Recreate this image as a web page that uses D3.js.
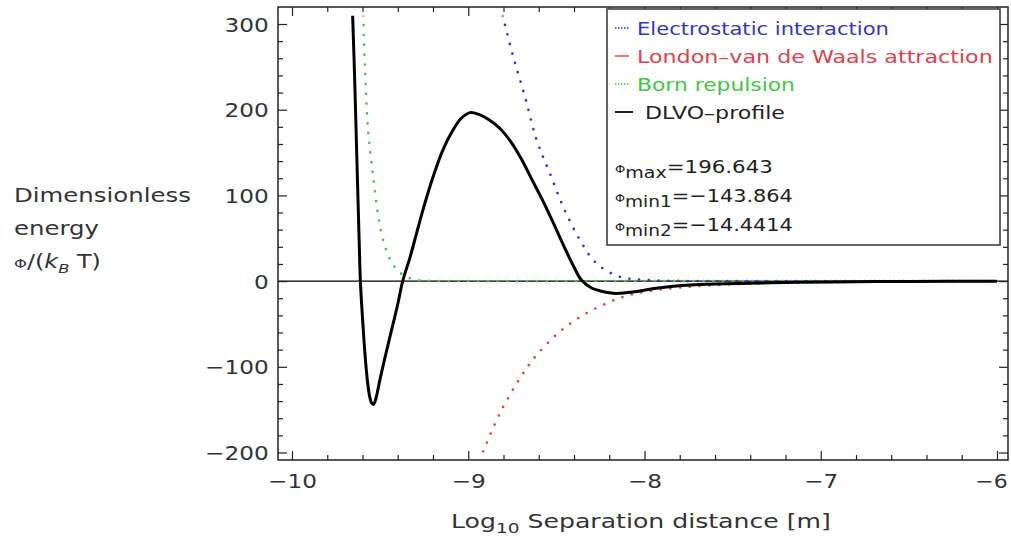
<!DOCTYPE html>
<html>
<head>
  <meta charset="utf-8">
  <script src="https://d3js.org/d3.v7.min.js"></script>
  <style>
    body { margin: 0; background: #fff; }
    text { font-family: "DejaVu Sans", Verdana, sans-serif; fill: #333; }
  </style>
</head>
<body>
<script>
// tick values
var xMajor = [-10, -9, -8, -7, -6];
var xMinor = [-9.8, -9.6, -9.4, -9.2, -8.8, -8.6, -8.4, -8.2, -7.8, -7.6, -7.4, -7.2, -6.8, -6.6, -6.4, -6.2];
var yMajor = [-200, -100, 0, 100, 200, 300];
var yMinor = [-180, -160, -140, -120, -80, -60, -40, -20, 20, 40, 60, 80, 120, 140, 160, 180, 220, 240, 260, 280, 320];

// series (x = log10 separation, y = energy / kT)
var dlvoX = [-9.656, -9.645, -9.633, -9.620, -9.612, -9.604, -9.594, -9.582, -9.570, -9.558, -9.548, -9.538, -9.528, -9.516, -9.501, -9.470, -9.435, -9.400, -9.372, -9.330, -9.293, -9.250, -9.199, -9.150, -9.104, -9.040, -8.990, -8.940, -8.880, -8.820, -8.760, -8.700, -8.640, -8.580, -8.520, -8.460, -8.404, -8.357, -8.300, -8.250, -8.200, -8.160, -8.066, -7.970, -7.875, -7.686, -7.400, -7.120, -6.800, -6.500, -6.000];
var dlvoY = [310, 240, 150, 55, 0, -30, -62, -95, -120, -136, -142.5, -143.9, -140, -130, -115, -87, -57, -27, 0, 28, 56, 88, 122, 150, 170, 190, 196.6, 194.5, 188, 178, 163, 143, 119, 95, 69, 42, 18, 1, -8, -11.5, -13.7, -14.44, -12.8, -9.5, -6.8, -4.0, -2.4, -1.4, -0.7, -0.4, -0.2];

var elecX = [-8.805, -8.745, -8.678, -8.612, -8.537, -8.461, -8.366, -8.272, -8.140, -8.000, -7.800, -7.500, -7.000, -6.500, -6.000];
var elecY = [310, 262, 215, 164.5, 125.7, 86.7, 47.8, 20.6, 5, 1.5, 0.2, 0, 0, 0, 0];

var vdwX = [-8.915, -8.820, -8.707, -8.612, -8.480, -8.348, -8.215, -8.121, -8.000, -7.800, -7.500, -7.000, -6.500, -6.000];
var vdwY = [-199, -154, -113.5, -86.3, -59, -39.7, -26, -18.3, -12.5, -7.5, -3.8, -1.2, -0.4, -0.1];

var bornX = [-9.596, -9.586, -9.567, -9.539, -9.510, -9.472, -9.425, -9.369, -9.300, -9.200, -9.000, -8.000, -7.000, -6.000];
var bornY = [310, 250, 172, 121.7, 75, 40, 18.7, 7, 1.5, 0.2, 0, 0, 0, 0];

var legendLabels = ["Electrostatic interaction", "London\u2013van de Waals attraction", "Born repulsion", "DLVO\u2013profile"];
var legendColors = ["#3434c8", "#e0404c", "#40c840", "#222"];
var phiNames = ["max", "min1", "min2"];
var phiValues = ["196.643", "\u2212143.864", "\u221214.4414"];

var W = 1011, H = 536;
var svg = d3.select("body").append("svg").attr("width", W).attr("height", H);

var fL = 278, fR = 1008, fT = 7, fB = 460;
var x = d3.scaleLinear().domain([-10, -6]).range([292, 997]);
var y = d3.scaleLinear().domain([-200, 300]).range([452.5, 24]);

// stretch a text horizontally to a target width
function fit(t, px, py, w) {
  var l = t.node().getBBox().width;
  t.attr("x", 0).attr("y", 0)
   .attr("transform", "translate(" + px + "," + py + ") scale(" + (w / l) + ",1)");
}

// clip to plot range
svg.append("clipPath").attr("id", "clip").append("rect")
  .attr("x", fL).attr("y", y(310)).attr("width", fR - fL).attr("height", y(-200) - y(310));

// zero axis
svg.append("line").attr("x1", fL).attr("x2", fR).attr("y1", y(0)).attr("y2", y(0))
  .attr("stroke", "#000").attr("stroke-width", 1.3);

var line = d3.line().x(function (d) { return x(d[0]); }).y(function (d) { return y(d[1]); })
  .curve(d3.curveCatmullRom.alpha(0.5));

function zip(a, b) { return a.map(function (v, i) { return [v, b[i]]; }); }

var plot = svg.append("g").attr("clip-path", "url(#clip)");
[[elecX, elecY, legendColors[0]], [vdwX, vdwY, legendColors[1]], [bornX, bornY, legendColors[2]]].forEach(function (s) {
  plot.append("path").attr("d", line(zip(s[0], s[1])))
    .attr("fill", "none").attr("stroke", s[2]).attr("stroke-width", 2.7)
    .attr("stroke-linecap", "round").attr("stroke-dasharray", "0,9.8");
});
plot.append("path").attr("d", line(zip(dlvoX, dlvoY)))
  .attr("fill", "none").attr("stroke", "#000").attr("stroke-width", 3)
  .attr("stroke-linejoin", "round");

// frame ticks
function ticks(axis, tr, vals, size) {
  var g = svg.append("g").attr("transform", tr)
    .call(axis.tickValues(vals).tickSize(-size).tickSizeOuter(0).tickFormat(""));
  g.select(".domain").remove();
  g.selectAll("line").attr("stroke", "#222").attr("stroke-width", 1.2);
  return g;
}
ticks(d3.axisBottom(x), "translate(0," + fB + ")", xMinor, 5);
ticks(d3.axisTop(x), "translate(0," + fT + ")", xMinor, 5);
ticks(d3.axisTop(x), "translate(0," + fT + ")", xMajor, 9);
ticks(d3.axisLeft(y), "translate(" + fL + ",0)", yMinor.filter(function (v) { return y(v) > fT; }), 5);
ticks(d3.axisRight(y), "translate(" + fR + ",0)", yMinor.filter(function (v) { return y(v) > fT; }), 5);
ticks(d3.axisRight(y), "translate(" + fR + ",0)", yMajor, 9);

var gx = svg.append("g").attr("transform", "translate(0," + fB + ")")
  .call(d3.axisBottom(x).tickValues(xMajor).tickSize(-9).tickSizeOuter(0).tickPadding(14)
    .tickFormat(function (d) { return d3.format("")(d); }));
gx.select(".domain").remove();
gx.selectAll("line").attr("stroke", "#222").attr("stroke-width", 1.2);
gx.selectAll("text").attr("font-size", 20).attr("fill", "#333")
  .attr("transform", function (d) { return d === -6 ? "translate(-6,0) scale(1.1,1)" : "scale(1.16,1)"; });

var gy = svg.append("g").attr("transform", "translate(" + fL + ",0)")
  .call(d3.axisLeft(y).tickValues(yMajor).tickSize(-9).tickSizeOuter(0).tickPadding(8)
    .tickFormat(function (d) { return d3.format("")(d); }));
gy.select(".domain").remove();
gy.selectAll("line").attr("stroke", "#222").attr("stroke-width", 1.2);
gy.selectAll("text").attr("font-size", 20).attr("fill", "#333").attr("dy", "0.35em")
  .attr("transform", "scale(1.16,1)");

svg.append("rect").attr("x", fL).attr("y", fT).attr("width", fR - fL).attr("height", fB - fT)
  .attr("fill", "none").attr("stroke", "#222").attr("stroke-width", 1.5);

// axis labels
var xl = svg.append("text").attr("font-size", 19);
xl.append("tspan").text("Log");
xl.append("tspan").attr("font-size", 14).attr("dy", 5).text("10");
xl.append("tspan").attr("dy", -5).text(" Separation distance [m]");
fit(xl, 451, 528, 380);

fit(svg.append("text").attr("font-size", 19).text("Dimensionless"), 14, 202, 177);
fit(svg.append("text").attr("font-size", 19).text("energy"), 14, 235, 85);
var yl = svg.append("text").attr("font-size", 19);
yl.append("tspan").attr("font-size", 13).text("\u03a6");
yl.append("tspan").text("/(");
yl.append("tspan").attr("font-style", "italic").text("k");
yl.append("tspan").attr("font-size", 13).attr("font-style", "italic").attr("dy", 5).text("B");
yl.append("tspan").attr("dy", -5).text(" T)");
fit(yl, 14, 268, 87);

// legend box
svg.append("rect").attr("x", 607).attr("y", 9).attr("width", 393).attr("height", 236)
  .attr("fill", "#fff").attr("stroke", "#333").attr("stroke-width", 1.5);

var legWidths = [252, 356, 158, 140];
var legX = [637, 637, 637, 645];
legendLabels.forEach(function (lab, i) {
  var cy = 28 + i * 28;
  svg.append("line").attr("x1", 615).attr("x2", i === 3 ? 633 : 629).attr("y1", cy).attr("y2", cy)
    .attr("stroke", legendColors[i]).attr("stroke-width", i === 3 ? 2 : 1.4)
    .attr("stroke-dasharray", i === 3 || i === 1 ? null : "1.5,1.5");
  var t = svg.append("text").attr("font-size", 18).text(lab)
    .style("fill", i === 3 ? "#222" : legendColors[i]);
  fit(t, legX[i], cy + 7, legWidths[i]);
});

var phiWidths = [158, 178, 178];
phiNames.forEach(function (nm, i) {
  var base = 173 + i * 29;
  var t = svg.append("text").attr("font-size", 18).style("fill", "#222");
  t.append("tspan").attr("font-size", 11).text("\u03a6");
  t.append("tspan").attr("font-size", 16).attr("dy", 5).text(nm);
  t.append("tspan").attr("dy", -5).text("=" + phiValues[i]);
  fit(t, 615, base, phiWidths[i]);
});
</script>
</body>
</html>
